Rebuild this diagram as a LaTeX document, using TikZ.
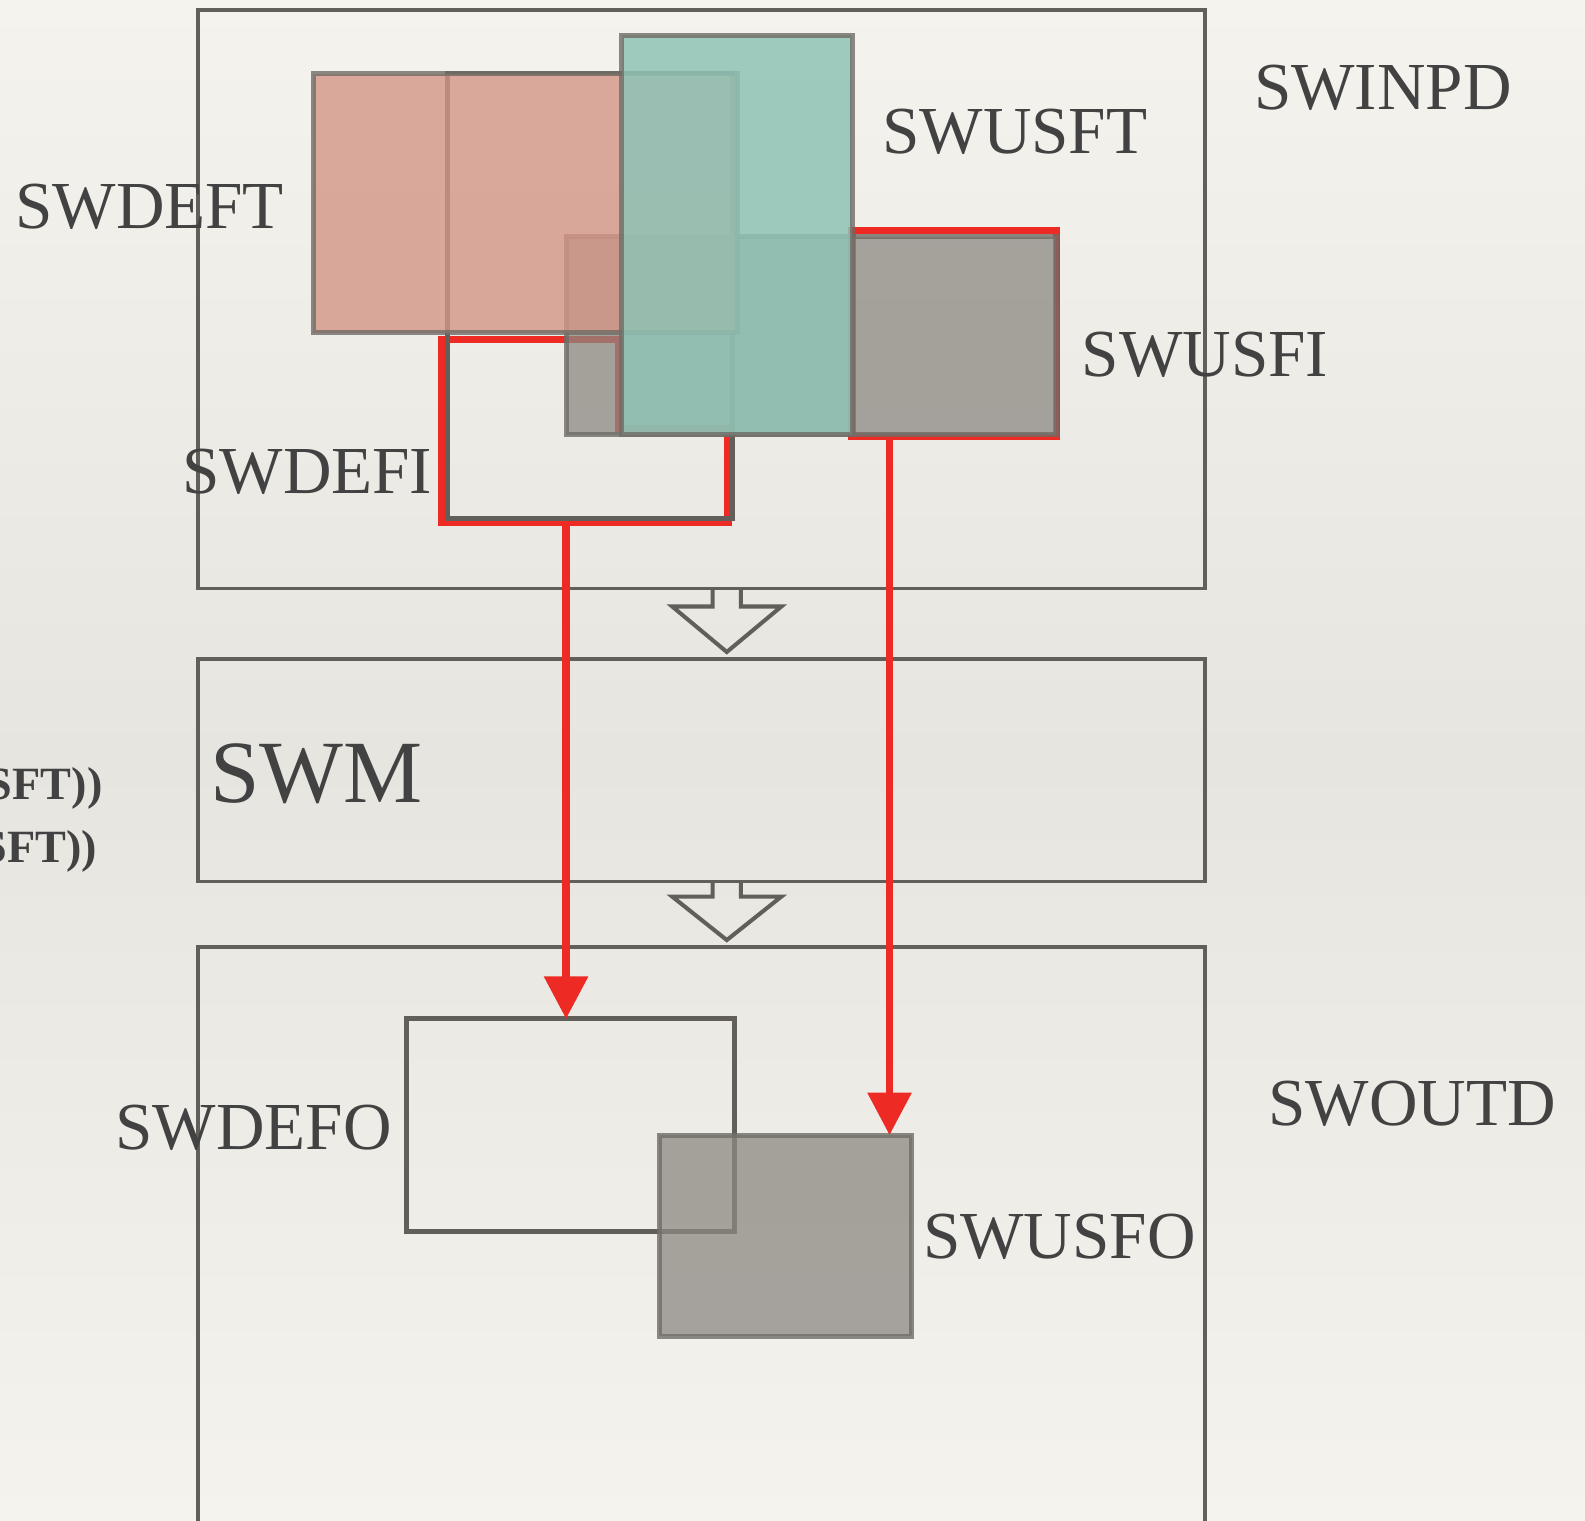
\documentclass[tikz,border=0pt]{standalone}
\usepackage{fontspec}
\setmainfont{Liberation Serif}
\usepackage{tikz}
\usetikzlibrary{arrows.meta}

\definecolor{paper}{RGB}{245,243,238}
\definecolor{paperdark}{RGB}{231,229,224}
\definecolor{boxline}{RGB}{98,95,90}
\definecolor{setline}{RGB}{112,108,102}
\definecolor{ftpink}{RGB}{212,150,135}
\definecolor{ftteal}{RGB}{143,195,181}
\definecolor{figray}{RGB}{140,136,130}
\definecolor{selred}{RGB}{238,42,36}
\definecolor{txt}{RGB}{66,66,66}

\begin{document}
\begin{tikzpicture}[
    x=0.01cm, y=-0.01cm,
    >={Triangle[width=0.42cm, length=0.42cm]},
    lbl/.style={text=txt, font=\fontsize{18.9}{23}\selectfont, inner sep=0pt},
    stage/.style={line width=0.035cm, boxline},
    setbox/.style={line width=0.05cm, draw=setline, draw opacity=0.8},
    sel/.style={line width=0.075cm, selred},
    flow/.style={line width=0.04cm, boxline, line join=miter}
]

\useasboundingbox (0,0) rectangle (1568,1504);
\clip (0,0) rectangle (1568,1504);

% Papier

\shade[
    top color=paper,
    bottom color=paper,
    middle color=paperdark
] (0,0) rectangle (1568,1504);


% Etappen

\draw[stage] (196,10) rectangle (1192,582);
\draw[stage] (196,652) rectangle (1192,872);
\draw[stage] (196,937) rectangle (1192,1540);

\node[lbl] (swinpd) at (1368,87) {SWINPD};
\node[lbl, font=\fontsize{25}{30}\selectfont] (swm) at (313,765) {SWM};
\node[lbl] (swoutd) at (1397,1092) {SWOUTD};

\node[lbl, font=\bfseries\fontsize{13}{16}\selectfont, anchor=east]
    (swmline1) at (102,780) {SFT))};
\node[lbl, font=\bfseries\fontsize{13}{16}\selectfont, anchor=east]
    (swmline2) at (97,842) {SFT))};


% Pfeile zwischen den Etappen

\draw[flow]
    (705,583) -- (705,600) -- (665,600) -- (719,645)
    -- (773,600) -- (733,600) -- (733,583);

\draw[flow]
    (705,872) -- (705,887) -- (665,887) -- (719,930)
    -- (773,887) -- (733,887) -- (733,872);


% Eingabe

\draw[sel, line join=miter]
    (437,336) -- (612,336) -- (612,424) -- (720,424)
    -- (720,517) -- (437,517) -- cycle;

\draw[sel] (843,228) rectangle (1045,432);

\draw[
    line width=0.05cm,
    boxline
] (443,73) rectangle (725,513);

\draw[
    setbox,
    fill=figray,
    fill opacity=0.75
] (560,234) rectangle (1045,430);

\draw[
    setbox,
    fill=ftpink,
    fill opacity=0.8
] (310,73) rectangle (730,329);

\draw[
    setbox,
    fill=ftteal,
    fill opacity=0.85
] (615,35) rectangle (843,430);

\node[lbl] (swusft) at (1004,130) {SWUSFT};
\node[lbl] (swdeft) at (148,205) {SWDEFT};
\node[lbl] (swusfi) at (1192,351) {SWUSFI};
\node[lbl] (swdefi) at (304,467) {SWDEFI};


% Ausgabe

\draw[
    line width=0.05cm,
    boxline
] (402,1008) rectangle (727,1218);

\draw[
    setbox,
    fill=figray,
    fill opacity=0.75
] (652,1123) rectangle (902,1322);

\node[lbl] (swdefo) at (251,1116) {SWDEFO};
\node[lbl] (swusfo) at (1048,1224) {SWUSFO};


% Zuordnung

\coordinate (defi-out) at (560,517);
\coordinate (defo-in) at (560,1008);
\coordinate (usfi-out) at (880,432);
\coordinate (usfo-in) at (880,1123);

\draw[->, sel] (defi-out) -- (defo-in);
\draw[->, sel] (usfi-out) -- (usfo-in);

\end{tikzpicture}
\end{document}
